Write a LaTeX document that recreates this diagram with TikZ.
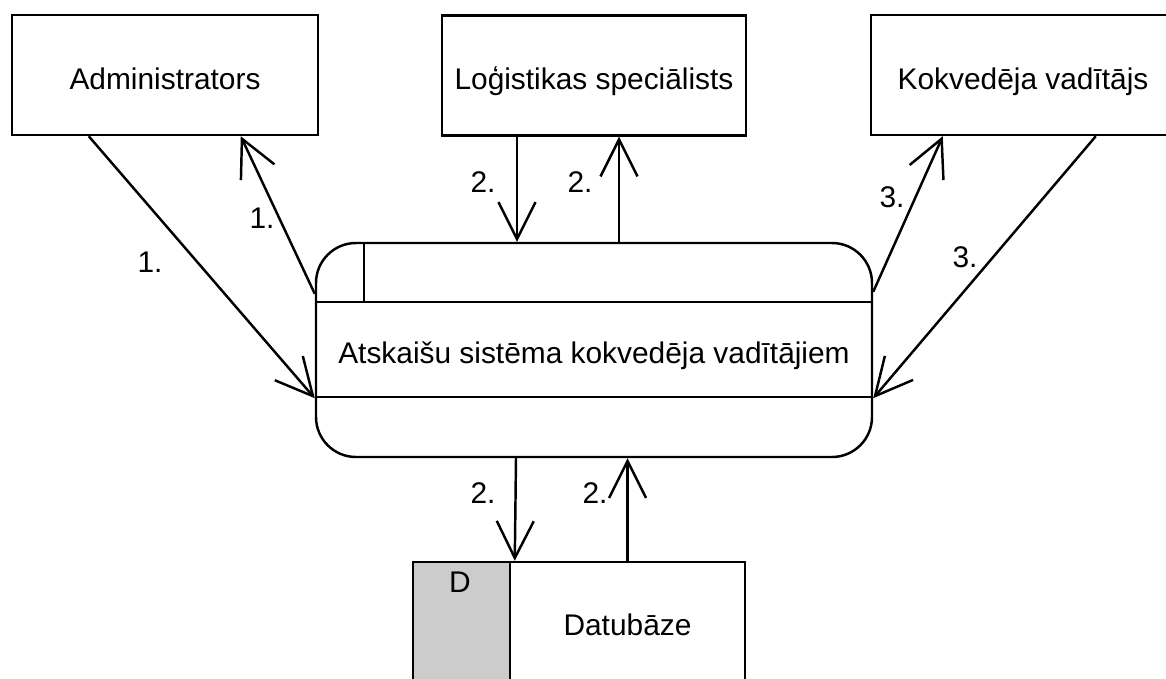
\documentclass[tikz,border=0pt]{standalone}
\usepackage{fontspec}
\setmainfont{Liberation Sans}
\usetikzlibrary{arrows.meta}
\newcommand{\linew}{1.4pt}
\newcommand{\storegray}{black!20}

\begin{document}
\begin{tikzpicture}[
  every node/.style={font=\fontsize{17}{20}\selectfont},
  entity/.style={draw, line width=\linew, minimum width=6.08cm, minimum height=2.4cm, inner sep=0pt, text height=0.56cm, text depth=0cm},
  process/.style={draw, line width=\linew, rounded corners=0.8cm, minimum width=11.12cm, minimum height=4.28cm, inner sep=0pt, text height=0.52cm, text depth=0cm},
  store/.style={draw, line width=\linew, minimum height=2.6cm, inner sep=0pt, text height=0.32cm, text depth=0cm},
  flow/.style={line width=\linew, -{Straight Barb[length=7.4mm,width=7.4mm]}},
  flownum/.style={inner sep=0pt}
]
\useasboundingbox (0,0) rectangle (23.32,-13.56);
\clip (0,0) rectangle (23.32,-13.56);
\node[entity, minimum width=6.12cm] (admin) at (3.30, -1.50) {Administrators};
\node[entity] (logist) at (11.88, -1.51) {Loģistikas speciālists};
\node[entity] (kokv) at (20.46, -1.50) {Kokvedēja vadītājs};
\node[process] (proc) at (11.88, -7.00) {Atskaišu sistēma kokvedēja vadītājiem};
\draw[line width=\linew] ([yshift=-1.2cm]proc.north west) -- ([yshift=-1.2cm]proc.north east);
\draw[line width=\linew] ([yshift=1.22cm]proc.south west) -- ([yshift=1.22cm]proc.south east);
\draw[line width=\linew] ([xshift=0.98cm]proc.north west) -- ([xshift=0.98cm,yshift=-1.2cm]proc.north west);
\node[store, fill=\storegray, minimum width=1.94cm] (dbid) at (9.23, -12.54) {};
\node[store, minimum width=4.70cm] (db) at (12.55, -12.54) {Datubāze};
\node (dbletter) at (9.20, -11.65) {D};
%1.
\draw[flow] ([xshift=1.56cm]admin.south west) -- ([yshift=1.2cm]proc.south west);
\draw[flow] ([yshift=-1.04cm]proc.north west) -- ([xshift=4.60cm]admin.south west);
%2.
\draw[flow] ([xshift=-1.54cm]logist.south) -- ([xshift=-1.54cm]proc.north);
\draw[flow] ([xshift=0.5cm]proc.north) -- ([xshift=0.5cm]logist.south);
%3.
\draw[flow] ([yshift=-1.0cm]proc.north east) -- ([xshift=1.46cm]kokv.south west);
\draw[flow] ([xshift=4.52cm]kokv.south west) -- ([yshift=1.2cm]proc.south east);
%2. db
\draw[flow] ([xshift=-1.56cm]proc.south) -- ([xshift=0.12cm]db.north west);
\draw[flow] (db.north) -- (db.north |- proc.south);
%labels
\node[flownum] (n1a) at (3.00, -5.24) {1.};
\node[flownum] (n1b) at (5.24, -4.36) {1.};
\node[flownum] (n2a) at (9.66, -3.64) {2.};
\node[flownum] (n2b) at (11.60, -3.64) {2.};
\node[flownum] (n3a) at (17.84, -3.94) {3.};
\node[flownum] (n3b) at (19.30, -5.14) {3.};
\node[flownum] (n2c) at (9.66, -9.86) {2.};
\node[flownum] (n2d) at (11.90, -9.86) {2.};
\end{tikzpicture}
\end{document}
